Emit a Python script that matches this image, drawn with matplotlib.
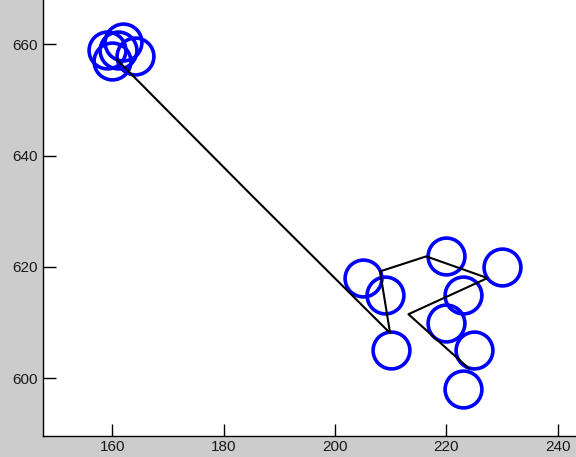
import matplotlib
matplotlib.use('Agg')
import matplotlib.pyplot as plt

# Positions of the tracked points (circles)
pts_x = [159, 162, 161, 164, 160, 205, 209, 210, 220, 230, 223, 220, 225, 223]
pts_y = [659, 660.5, 659, 658, 657, 618, 615, 605, 622, 620, 615, 610, 605, 598]

# Path of the trajectory line
path_x = [160.8, 185.3, 209.9, 208.1, 216.4, 227.4, 213.2, 224.0]
path_y = [657.3, 632.6, 608.1, 619.2, 621.9, 618.0, 611.5, 601.8]

xticks = [160, 180, 200, 220, 240]
yticks = [600, 620, 640, 660]

plt.rcParams['font.family'] = ['Liberation Sans', 'DejaVu Sans']

fig = plt.figure(figsize=(5.76, 4.57), dpi=100, facecolor='#cccccc')
ax = fig.add_axes([43 / 576, 21 / 457, 1 - 43 / 576, 1 - 21 / 457])
ax.set_facecolor('white')

ax.plot(pts_x, pts_y, linestyle='none', marker='o', markersize=26.5,
        markerfacecolor='none', markeredgecolor='#0000ff',
        markeredgewidth=2.6, zorder=2)
ax.plot(path_x, path_y, color='black', linewidth=1.5, zorder=3)

ax.set_xlim(147.55, 243.3)
ax.set_ylim(589.6, 668.0)
ax.set_xticks(xticks)
ax.set_yticks(yticks)
ax.tick_params(direction='in', length=9, width=1, labelsize=11,
               labelcolor='#1a1a1a', pad=4)
ax.tick_params(axis='x', pad=3)
for side in ['top', 'right']:
    ax.spines[side].set_visible(False)
for side in ['left', 'bottom']:
    ax.spines[side].set_linewidth(1.0)

fig.savefig('out.png', dpi=100, facecolor=fig.get_facecolor())
